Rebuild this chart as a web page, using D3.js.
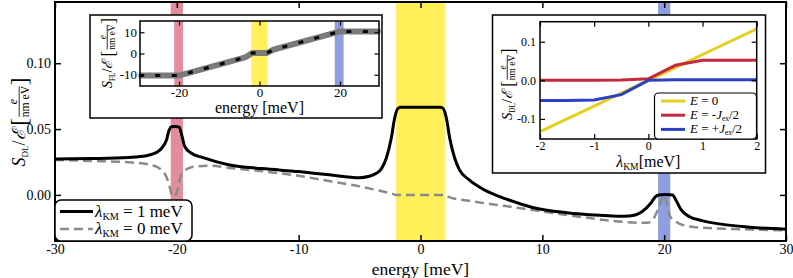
<!DOCTYPE html>
<html lang="en">
<head>
  <meta charset="UTF-8">
  <title>Spin-orbit torque vs energy</title>
  <style>
    body { margin: 0; background: white; }
    svg text { font-family: 'Liberation Serif', 'Times New Roman', 'DejaVu Serif', serif; }
  </style>
</head>
<body>
  <script src="https://d3js.org/d3.v7.min.js"></script>
  <script>
    // main panel: S_DL vs energy
    const energyKM1 = [-30, -27, -24, -22.5, -21.6, -21.25, -20.85, -20.63, -20.44, -20.1, -19.8, -19.6, -19.34, -18.8, -17.84, -15.66, -13, -10, -7.5, -5, -4.3, -3.63, -3.2, -2.81, -2.4, -2.13, -1.86, -1.6, 0, 1.6, 1.86, 2.13, 2.4, 2.81, 3.2, 4.0, 5.1, 7, 9.2, 12, 14.7, 16.2, 17.13, 18.2, 18.9, 19.3, 19.55, 20.1, 20.68, 20.96, 21.4, 22.05, 23.1, 24.5, 27, 30];
    const sdlKM1 = [0.0272, 0.0276, 0.0285, 0.0298, 0.0325, 0.0354, 0.0417, 0.0492, 0.0517, 0.0520, 0.0515, 0.0455, 0.0366, 0.0316, 0.0283, 0.0227, 0.0200, 0.0177, 0.0153, 0.0131, 0.0140, 0.0164, 0.0200, 0.0278, 0.0430, 0.0580, 0.0657, 0.0665, 0.0665, 0.0665, 0.0657, 0.0580, 0.0430, 0.0278, 0.0190, 0.0114, 0.0045, -0.0030, -0.0095, -0.0135, -0.0155, -0.0162, -0.0160, -0.0126, -0.0063, -0.0013, 0.0, 0.0003, 0.0, -0.0038, -0.0114, -0.0164, -0.0195, -0.0220, -0.0245, -0.0260];

    const energyKM0 = [-30, -27, -24, -22.3, -21.25, -20.7, -20.4, -20.2, -19.9, -19.7, -19.4, -18.6, -17.3, -15.7, -13, -10, -7.5, -5, -3.5, -2.27, -2, 2, 2.3, 4, 7, 10, 13, 15.5, 17.5, 18.6, 19.1, 19.6, 20.0, 20.27, 20.5, 20.96, 22.05, 23.6, 27, 30];
    const sdlKM0 = [0.0265, 0.0258, 0.0248, 0.0232, 0.0190, 0.0100, 0.0, -0.0013, 0.0050, 0.0139, 0.0180, 0.0215, 0.0222, 0.0205, 0.0180, 0.0145, 0.0105, 0.0065, 0.0035, 0.0008, 0.0, 0.0, -0.0015, -0.0045, -0.0085, -0.0125, -0.0165, -0.0195, -0.0210, -0.0212, -0.0184, -0.0088, 0.0, -0.0088, -0.0165, -0.0202, -0.0240, -0.0252, -0.0262, -0.0270];

    // shaded energy windows [from, to] in meV
    const bandsMain = [[-20.5, -19.5], [-2, 2], [19.5, 20.5]];
    const bandsInset = [[-21.2, -19.0], [-2, 1.9], [18.7, 20.9]];
    const bandColors = ["#e38c9b", "#fff05a", "#8e9ee0"];

    // inset 1: S_FL vs energy
    const energyFL = [-30, -20, -3.5, -1.8, 1.8, 3.5, 20, 30];
    const sFL = [-10.4, -10.4, -1.8, 0.2, 0.2, 1.8, 10.4, 10.4];

    // inset 2: S_DL vs lambda_KM
    const lambdaKM = [-2, -1.5, -1, -0.5, 0, 0.5, 1, 1.5, 2];
    const sdlE0 = [-0.133, -0.1, -0.067, -0.033, 0.0, 0.033, 0.067, 0.1, 0.1335];
    const sdlEminus = [0.0, 0.0, 0.0005, 0.001, 0.004, 0.039, 0.052, 0.052, 0.052];
    const sdlEplus = [-0.052, -0.052, -0.051, -0.037, 0.0, 0.0015, 0.0017, 0.0017, 0.0017];
    const lamSeries = ["E0", "Eminus", "Eplus"];
    const lamColors = ["#e5cf1d", "#c42a3c", "#2b3fc4"];

    const width = 793, height = 278;
    const svg = d3.select("body").append("svg")
      .attr("width", width).attr("height", height);

    const hyph = f => d => f(d).replace("\u2212", "-");

    function axes(g, x, y, o) {
      const [x0, x1] = x.range(), [y0, y1] = y.range();
      const t = o.tick;
      const fix = a => a.attr("font-family", null).selectAll("text").attr("font-size", o.fs).attr("fill", "black");
      g.append("g").attr("transform", `translate(0,${y0})`)
        .call(d3.axisBottom(x).tickValues(o.xt).tickSize(-t).tickSizeOuter(0).tickPadding(o.xpad).tickFormat(o.xf))
        .call(fix);
      g.append("g").attr("transform", `translate(0,${y1})`)
        .call(d3.axisTop(x).tickValues(o.xt).tickSize(-t).tickSizeOuter(0).tickFormat(""));
      g.append("g").attr("transform", `translate(${x0},0)`)
        .call(d3.axisLeft(y).tickValues(o.yt).tickSize(-t).tickSizeOuter(0).tickPadding(o.ypad).tickFormat(o.yf))
        .call(fix);
      g.append("g").attr("transform", `translate(${x1},0)`)
        .call(d3.axisRight(y).tickValues(o.yt).tickSize(-t).tickSizeOuter(0).tickFormat(""));
      g.selectAll(".domain").remove();
      g.selectAll(".tick line").attr("stroke", "black").attr("stroke-width", o.tw);
      g.append("rect").attr("x", x0).attr("y", y1).attr("width", x1 - x0).attr("height", y0 - y1)
        .attr("fill", "none").attr("stroke", "black").attr("stroke-width", o.sw);
    }

    // rotated label  S_sub / E [e / nm eV]
    function yLabel(g, cx, cy, sub, fs) {
      const outer = g.append("g").attr("transform", `translate(${cx},${cy}) rotate(-90)`);
      const lg = outer.append("g");
      const t = lg.append("text").attr("font-size", fs);
      t.append("tspan").attr("font-style", "italic").text("S");
      t.append("tspan").attr("font-size", fs * 0.5).attr("dy", fs * 0.18).text(sub);
      t.append("tspan").attr("dy", -fs * 0.18).text("/");
      t.append("tspan").attr("font-style", "italic").text("\u2130");
      const w = t.node().getComputedTextLength() + fs * 0.2;
      lg.append("text").attr("x", w).attr("y", fs * 0.1).attr("font-size", fs * 1.3).text("[");
      const fx = w + fs * 0.5, fw = fs * 1.7;
      lg.append("text").attr("x", fx + fw / 2).attr("y", -fs * 0.45).attr("font-size", fs * 0.65)
        .attr("text-anchor", "middle").attr("font-style", "italic").text("e");
      lg.append("line").attr("x1", fx).attr("x2", fx + fw).attr("y1", -fs * 0.33).attr("y2", -fs * 0.33)
        .attr("stroke", "black").attr("stroke-width", 0.8);
      lg.append("text").attr("x", fx + fw / 2).attr("y", fs * 0.22).attr("font-size", fs * 0.65)
        .attr("text-anchor", "middle").text("nm eV");
      lg.append("text").attr("x", fx + fw + fs * 0.05).attr("y", fs * 0.1).attr("font-size", fs * 1.3).text("]");
      const b = lg.node().getBBox();
      lg.attr("transform", `translate(${-b.x - b.width / 2},${-b.y - b.height / 2})`);
    }

    function lamText(sel, fs, rest) {
      sel.append("tspan").attr("font-style", "italic").text("\u03bb");
      sel.append("tspan").attr("font-size", fs * 0.6).attr("dy", fs * 0.2).text("KM");
      sel.append("tspan").attr("dy", -fs * 0.2).text(rest);
    }

    // ---------- main panel ----------
    const x = d3.scaleLinear().domain([-30, 30]).range([55, 786]);
    const y = d3.scaleLinear().domain([-0.035, 0.1465]).range([241, 2]);
    const main = svg.append("g");

    main.selectAll("rect.band").data(bandsMain).join("rect").attr("class", "band")
      .attr("x", d => x(d[0])).attr("width", d => x(d[1]) - x(d[0]))
      .attr("y", y.range()[1]).attr("height", y.range()[0] - y.range()[1])
      .attr("fill", (d, i) => bandColors[i]);

    const line = d3.line().x(d => x(d[0])).y(d => y(d[1])).curve(d3.curveMonotoneX);
    main.append("path").datum(d3.zip(energyKM0, sdlKM0)).attr("d", line)
      .attr("fill", "none").attr("stroke", "#8a8a8a").attr("stroke-width", 2.5).attr("stroke-dasharray", "9,5");
    main.append("path").datum(d3.zip(energyKM1, sdlKM1)).attr("d", line)
      .attr("fill", "none").attr("stroke", "black").attr("stroke-width", 3);

    axes(main, x, y, { xt: d3.range(-30, 31, 10), yt: [0, 0.05, 0.1], xf: hyph(d3.format("d")), yf: d3.format(".2f"),
      tick: 6, fs: 14, xpad: 3, ypad: 4, tw: 1.5, sw: 2 });

    main.append("text").attr("x", x(0)).attr("y", 275).attr("text-anchor", "middle")
      .attr("font-size", 17.5).text("energy [meV]");
    yLabel(main, 19, 122, "DL", 18);

    // legend
    const leg = main.append("g");
    leg.append("rect").attr("x", 55).attr("y", 200).attr("width", 137).attr("height", 41).attr("rx", 6)
      .attr("fill", "white").attr("stroke", "black").attr("stroke-width", 1.5);
    const legItems = [{ rest: " = 1 meV", c: "black", w: 3, dash: null }, { rest: " = 0 meV", c: "#8a8a8a", w: 2.5, dash: "9,5" }];
    legItems.forEach((d, i) => {
      const ly = 211.5 + i * 17.5;
      leg.append("line").attr("x1", 60).attr("x2", 93).attr("y1", ly).attr("y2", ly)
        .attr("stroke", d.c).attr("stroke-width", d.w).attr("stroke-dasharray", d.dash);
      lamText(leg.append("text").attr("x", 95).attr("y", ly + 5).attr("font-size", 17), 17, d.rest);
    });

    // ---------- inset 1 ----------
    const in1 = svg.append("g");
    in1.append("rect").attr("x", 90).attr("y", 15).attr("width", 292).attr("height", 103)
      .attr("fill", "white").attr("stroke", "black").attr("stroke-width", 1.5);
    const x1 = d3.scaleLinear().domain([-29.7, 29.7]).range([140, 379]);
    const y1 = d3.scaleLinear().domain([-15.3, 15.3]).range([86, 21]);
    in1.selectAll("rect.band").data(bandsInset).join("rect").attr("class", "band")
      .attr("x", d => x1(d[0])).attr("width", d => x1(d[1]) - x1(d[0]))
      .attr("y", 21).attr("height", 65).attr("fill", (d, i) => bandColors[i]);
    const line1 = d3.line().x(d => x1(d[0])).y(d => y1(d[1]));
    const fl = d3.zip(energyFL, sFL);
    in1.append("path").datum(fl).attr("d", line1).attr("fill", "none")
      .attr("stroke", "#7a7a7a").attr("stroke-width", 6);
    in1.append("path").datum(fl).attr("d", line1).attr("fill", "none")
      .attr("stroke", "black").attr("stroke-width", 3).attr("stroke-dasharray", "5,11.5");
    axes(in1, x1, y1, { xt: [-20, 0, 20], yt: [-10, 0, 10], xf: hyph(d3.format("d")), yf: hyph(d3.format("d")),
      tick: 4.5, fs: 13, xpad: 2, ypad: 3, tw: 1.2, sw: 1.5 });
    in1.append("text").attr("x", x1(0)).attr("y", 113).attr("text-anchor", "middle")
      .attr("font-size", 16).text("energy [meV]");
    yLabel(in1, 107, 53, "FL", 14.5);

    // ---------- inset 2 ----------
    const in2 = svg.append("g");
    in2.append("rect").attr("x", 492.5).attr("y", 15).attr("width", 273).attr("height", 158)
      .attr("fill", "white").attr("stroke", "black").attr("stroke-width", 1.5);
    const x2 = d3.scaleLinear().domain([-2, 2]).range([540, 756.7]);
    const y2 = d3.scaleLinear().domain([-0.152, 0.152]).range([139, 21.7]);
    const series2 = { E0: sdlE0, Eminus: sdlEminus, Eplus: sdlEplus };
    const line2 = d3.line().x(d => x2(d[0])).y(d => y2(d[1]));
    lamSeries.forEach((k, i) => {
      in2.append("path").datum(d3.zip(lambdaKM, series2[k])).attr("d", line2)
        .attr("fill", "none").attr("stroke", lamColors[i]).attr("stroke-width", 3);
    });
    axes(in2, x2, y2, { xt: [-2, -1, 0, 1, 2], yt: [-0.1, 0, 0.1], xf: hyph(d3.format("d")), yf: hyph(d3.format(".1f")),
      tick: 5, fs: 12, xpad: 2, ypad: 4, tw: 1.2, sw: 1.5 });
    lamText(in2.append("text").attr("x", x2(0)).attr("y", 167).attr("text-anchor", "middle").attr("font-size", 16), 16, "[meV]");
    yLabel(in2, 507, 84, "DL", 14.5);

    const leg2 = in2.append("g");
    leg2.append("rect").attr("x", 654.5).attr("y", 93).attr("width", 102).attr("height", 46).attr("rx", 4)
      .attr("fill", "white").attr("stroke", "black").attr("stroke-width", 1.2);
    const leg2Items = [["", "= 0"], ["= -", "/2"], ["= +", "/2"]];
    leg2Items.forEach((d, i) => {
      const ly = 101 + i * 14.2;
      leg2.append("line").attr("x1", 661).attr("x2", 685).attr("y1", ly).attr("y2", ly)
        .attr("stroke", lamColors[i]).attr("stroke-width", 3);
      const t = leg2.append("text").attr("x", 690).attr("y", ly + 4).attr("font-size", 13);
      t.append("tspan").attr("font-style", "italic").text("E");
      if (i === 0) { t.append("tspan").text(" = 0"); return; }
      t.append("tspan").text(" " + d[0]);
      t.append("tspan").attr("font-style", "italic").text("J");
      t.append("tspan").attr("font-size", 7.5).attr("dy", 1.8).text("ex");
      t.append("tspan").attr("dy", -1.8).text(d[1]);
    });
  </script>
</body>
</html>
